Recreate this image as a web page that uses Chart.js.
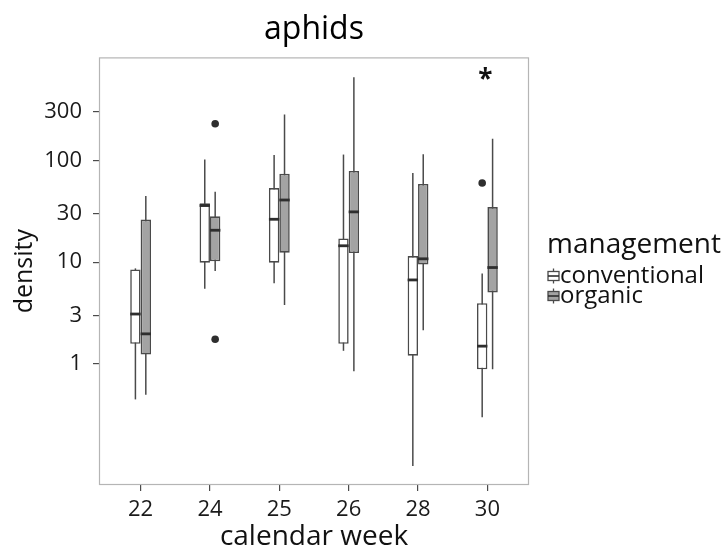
<!DOCTYPE html>
<html>
<head>
<meta charset="utf-8">
<title>aphids</title>
<script src="https://cdn.jsdelivr.net/npm/chart.js@4.4.1/dist/chart.umd.min.js"></script>
<style>
  html, body { margin: 0; padding: 0; background: #ffffff; }
  #wrap { width: 725px; height: 554px; }
</style>
</head>
<body>
<div id="wrap"><canvas id="aphidChart" width="725" height="554"></canvas></div>
<script>
// calendar weeks (x axis) and log ticks (y axis)
const weeks = ['22', '24', '25', '26', '28', '30'];
const yTicks = [1, 3, 10, 30, 100, 300];

// conventional: whisker ends, quartiles, median
const convLow    = [0.45, 5.5, 6.2, 1.35, 0.10, 0.30];
const convQ1     = [1.58, 9.9, 9.9, 1.58, 1.21, 0.89];
const convMedian = [3.1, 36, 26.4, 14.5, 6.7, 1.5];
const convQ3     = [8.5, 37.9, 53.5, 17.1, 11.5, 3.96];
const convHigh   = [8.7, 102, 113, 114, 75, 7.75];
const convOut    = [[], [], [], [], [], [60]];

// organic
const orgLow    = [0.50, 8.2, 3.8, 0.85, 2.15, 0.89];
const orgQ1     = [1.24, 10.2, 12.4, 12.3, 9.5, 5.05];
const orgMedian = [1.98, 20.6, 40.8, 31.2, 10.8, 8.87];
const orgQ3     = [26.2, 28.2, 74, 78.6, 58.6, 34.8];
const orgHigh   = [44.7, 49.3, 282, 656, 115, 163];
const orgOut    = [[], [229, 1.75], [], [], [], []];

// significance marks per week
const signif = ['', '', '', '', '', '*'];
const signifAt = 680;

const series = [
    { label: 'conventional', low: convLow, q1: convQ1, med: convMedian, q3: convQ3, high: convHigh, out: convOut, fill: '#ffffff' },
    { label: 'organic', low: orgLow, q1: orgQ1, med: orgMedian, q3: orgQ3, high: orgHigh, out: orgOut, fill: '#a3a3a3' }
];

const lineCol = '#4a4a4a';
const darkCol = '#2e2e2e';

Chart.defaults.font.family = "'Open Sans', sans-serif";
Chart.defaults.color = '#1a1a1a';

// whiskers behind the boxes, medians/outliers/asterisk on top
const boxPlot = {
    id: 'boxPlot',
    beforeDatasetsDraw(chart) {
        const ctx = chart.ctx;
        const y = chart.scales.y;
        ctx.save();
        ctx.strokeStyle = lineCol;
        ctx.lineWidth = 1.5;
        series.forEach((s, di) => {
            chart.getDatasetMeta(di).data.forEach((bar, i) => {
                ctx.beginPath();
                ctx.moveTo(bar.x, y.getPixelForValue(s.low[i]));
                ctx.lineTo(bar.x, y.getPixelForValue(s.high[i]));
                ctx.stroke();
            });
        });
        ctx.restore();
    },
    afterDatasetsDraw(chart) {
        const ctx = chart.ctx;
        const x = chart.scales.x;
        const y = chart.scales.y;
        ctx.save();
        series.forEach((s, di) => {
            chart.getDatasetMeta(di).data.forEach((bar, i) => {
                const half = bar.width / 2;
                const my = y.getPixelForValue(s.med[i]);
                ctx.strokeStyle = darkCol;
                ctx.lineWidth = 2.8;
                ctx.beginPath();
                ctx.moveTo(bar.x - half, my);
                ctx.lineTo(bar.x + half, my);
                ctx.stroke();
                ctx.fillStyle = darkCol;
                s.out[i].forEach(v => {
                    ctx.beginPath();
                    ctx.arc(bar.x, y.getPixelForValue(v), 3.8, 0, Math.PI * 2);
                    ctx.fill();
                });
            });
        });
        // significance asterisks
        ctx.fillStyle = '#111111';
        ctx.font = "bold 26px 'Open Sans', sans-serif";
        ctx.textAlign = 'center';
        ctx.textBaseline = 'middle';
        signif.forEach((m, i) => {
            if (m) ctx.fillText(m, x.getPixelForValue(i + 1) - 2, y.getPixelForValue(signifAt) + 5);
        });
        ctx.restore();
    },
    afterDraw(chart) {
        const ctx = chart.ctx;
        const a = chart.chartArea;
        ctx.save();
        // panel border
        ctx.strokeStyle = '#b5b5b5';
        ctx.lineWidth = 1.2;
        ctx.strokeRect(a.left + 0.5, a.top + 0.5, a.right - a.left - 1, a.bottom - a.top - 1);

        // legend
        const lx = a.right + 18;
        ctx.fillStyle = '#111111';
        ctx.textAlign = 'left';
        ctx.textBaseline = 'alphabetic';
        ctx.font = "28px 'Open Sans', sans-serif";
        ctx.fillText('management', lx, 253);
        ctx.font = "24px 'Open Sans', sans-serif";
        series.forEach((s, k) => {
            const cy = 276 + k * 20;
            const kx = lx + 1;
            ctx.strokeStyle = lineCol;
            ctx.lineWidth = 1.3;
            ctx.beginPath();
            ctx.moveTo(kx + 5.5, cy - 7.5);
            ctx.lineTo(kx + 5.5, cy + 7.5);
            ctx.stroke();
            ctx.fillStyle = s.fill;
            ctx.fillRect(kx, cy - 4.5, 11, 9);
            ctx.strokeRect(kx, cy - 4.5, 11, 9);
            ctx.strokeStyle = darkCol;
            ctx.lineWidth = 1.6;
            ctx.beginPath();
            ctx.moveTo(kx, cy);
            ctx.lineTo(kx + 11, cy);
            ctx.stroke();
            ctx.fillStyle = '#111111';
            ctx.textBaseline = 'middle';
            ctx.fillText(s.label, lx + 13, cy);
        });
        ctx.restore();
    }
};

new Chart(document.getElementById('aphidChart'), {
    type: 'bar',
    data: {
        datasets: series.map(s => ({
            label: s.label,
            data: weeks.map((w, i) => ({ x: i + 1, y: [s.q1[i], s.q3[i]] })),
            backgroundColor: s.fill,
            borderColor: lineCol,
            borderWidth: 1.6,
            borderSkipped: false,
            categoryPercentage: 0.3,
            barPercentage: 1.0
        }))
    },
    options: {
        responsive: false,
        animation: false,
        layout: { padding: { top: 3, right: 196, left: 0, bottom: 0 } },
        plugins: {
            legend: { display: false },
            tooltip: { enabled: false },
            title: {
                display: true,
                text: 'aphids',
                fullSize: false,
                color: '#000000',
                font: { size: 32, weight: 'normal' },
                padding: { top: 8, bottom: 8 }
            }
        },
        scales: {
            x: {
                type: 'linear',
                min: 0.4,
                max: 6.6,
                offset: false,
                afterBuildTicks: scale => { scale.ticks = weeks.map((w, i) => ({ value: i + 1 })); },
                afterFit: scale => { scale.height = 69; },
                ticks: {
                    autoSkip: false,
                    maxRotation: 0,
                    padding: 6,
                    color: '#1a1a1a',
                    font: { size: 22 },
                    callback: v => weeks[v - 1]
                },
                grid: { offset: false, drawOnChartArea: false, drawTicks: true, tickLength: 6, color: lineCol, lineWidth: 1.2 },
                border: { display: false },
                title: { display: true, text: 'calendar week', color: '#111111', font: { size: 28 }, padding: { top: 0, bottom: 0 } }
            },
            y: {
                type: 'logarithmic',
                min: 0.065,
                max: 1025,
                afterBuildTicks: scale => { scale.ticks = yTicks.map(v => ({ value: v })); },
                afterFit: scale => { scale.width = 99; },
                ticks: {
                    padding: 11,
                    color: '#1a1a1a',
                    font: { size: 22 },
                    callback: v => String(v)
                },
                grid: { drawOnChartArea: false, drawTicks: true, tickLength: 6, color: lineCol, lineWidth: 1.2 },
                border: { display: false },
                title: { display: true, text: 'density', color: '#111111', font: { size: 25 }, padding: { top: 10, bottom: 0 } }
            }
        }
    },
    plugins: [boxPlot]
});
</script>
</body>
</html>
